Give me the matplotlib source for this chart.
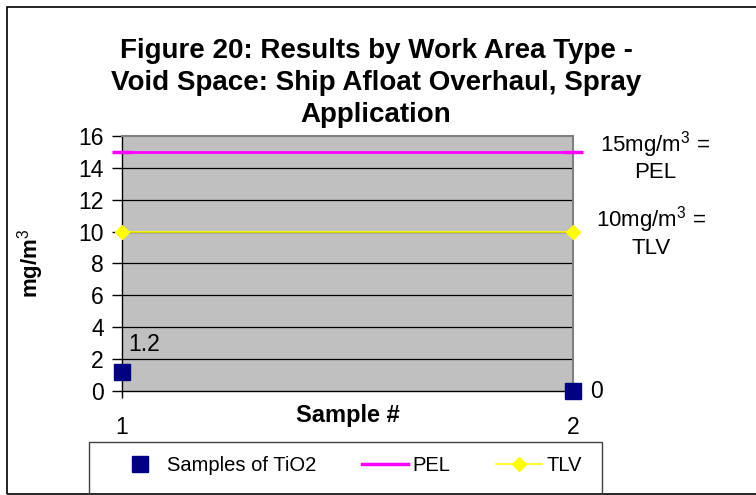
import matplotlib
matplotlib.use("Agg")
from matplotlib import pyplot as plt
from matplotlib.patches import Rectangle
from matplotlib.lines import Line2D

plt.rcParams['font.family'] = ['Liberation Sans', 'DejaVu Sans']
plt.rcParams['mathtext.fontset'] = 'custom'
plt.rcParams['mathtext.rm'] = 'Liberation Sans'
plt.rcParams['mathtext.it'] = 'Liberation Sans'
plt.rcParams['mathtext.bf'] = 'Liberation Sans:bold'

# data
samples = [1, 2]
tio2 = [1.2, 0]
pel = [15, 15]
tlv = [10, 10]
title = "Figure 20: Results by Work Area Type -\nVoid Space: Ship Afloat Overhaul, Spray\nApplication"

fig = plt.figure(figsize=(7.56, 4.95), dpi=100)
ax = fig.add_axes([0.1614, 0.2101, 0.5966, 0.5152])
ax.set_facecolor('#C0C0C0')

# outer chart border
fig.patches.append(Rectangle((7/756, 1/495), 1.0, 487/495, transform=fig.transFigure,
                             fill=False, edgecolor='black', lw=1.2))

ax.set_xlim(1, 2)
ax.set_ylim(0, 16)
ax.set_yticks(range(0, 17, 2))
ax.set_xticks(samples)
for y in range(2, 16, 2):
    ax.axhline(y, color='black', lw=0.9, zorder=1)

for s in ['top', 'right']:
    ax.spines[s].set_color('#808080')
    ax.spines[s].set_linewidth(1.5)
for s in ['left', 'bottom']:
    ax.spines[s].set_color('black')
    ax.spines[s].set_linewidth(1.0)

ax.tick_params(axis='y', direction='out', length=7, width=1, labelsize=16.5, pad=6)
ax.tick_params(axis='x', direction='out', length=5, width=1, labelsize=16.5, pad=13)

ax.plot(samples, pel, color='#FF00FF', lw=2, marker='_', ms=14, mew=2.5,
        clip_on=False, zorder=3, label='PEL')
ax.plot(samples, tlv, color='#FFFF00', lw=1.2, marker='D', ms=7, mec='#FFFF00',
        clip_on=False, zorder=3, label='TLV')
ax.plot(samples, tio2, ls='none', marker='s', ms=12, color='#000080',
        clip_on=False, zorder=4, label='Samples of TiO2')

ax.annotate('1.2', (samples[0], tio2[0]), xytext=(16, 20), textcoords='offset points',
            ha='center', va='center', fontsize=16.5)
ax.annotate('0', (samples[1], tio2[1]), xytext=(17, 0), textcoords='offset points',
            ha='center', va='center', fontsize=16.5)
ax.annotate('15mg/m$^3$ =\nPEL', (samples[1], pel[1]), xytext=(59, -3),
            textcoords='offset points', ha='center', va='center', fontsize=16,
            linespacing=1.15)
ax.annotate('10mg/m$^3$ =\nTLV', (samples[1], tlv[1]), xytext=(56, 0),
            textcoords='offset points', ha='center', va='center', fontsize=16,
            linespacing=1.15)

ax.set_ylabel('mg/m$^3$', fontsize=16, fontweight='bold')
ax.yaxis.set_label_coords(-0.169, 0.5)
ax.set_xlabel('Sample #', fontsize=17, fontweight='bold')
ax.xaxis.set_label_coords(0.5, -0.05)

fig.text(376/756, 0.832, title, ha='center', va='center', fontsize=20,
         fontweight='bold', linespacing=1.3)

# legend box
fig.patches.append(Rectangle((89/756, 0), 513/756, 53/495, transform=fig.transFigure,
                             fill=False, edgecolor='#404040', lw=1))
handles = [
    Line2D([], [], ls='none', marker='s', ms=12, color='#000080'),
    Line2D([], [], color='#FF00FF', lw=2.5),
    Line2D([], [], color='#FFFF00', lw=1.2, marker='D', ms=7),
]
fig.legend(handles, ['Samples of TiO2', 'PEL', 'TLV'], loc='center',
           bbox_to_anchor=(0.462, 0.06), ncol=3, frameon=False, fontsize=14.5,
           handlelength=2.28, columnspacing=2.3, handletextpad=0.2)

fig.savefig('out.png', dpi=100)
